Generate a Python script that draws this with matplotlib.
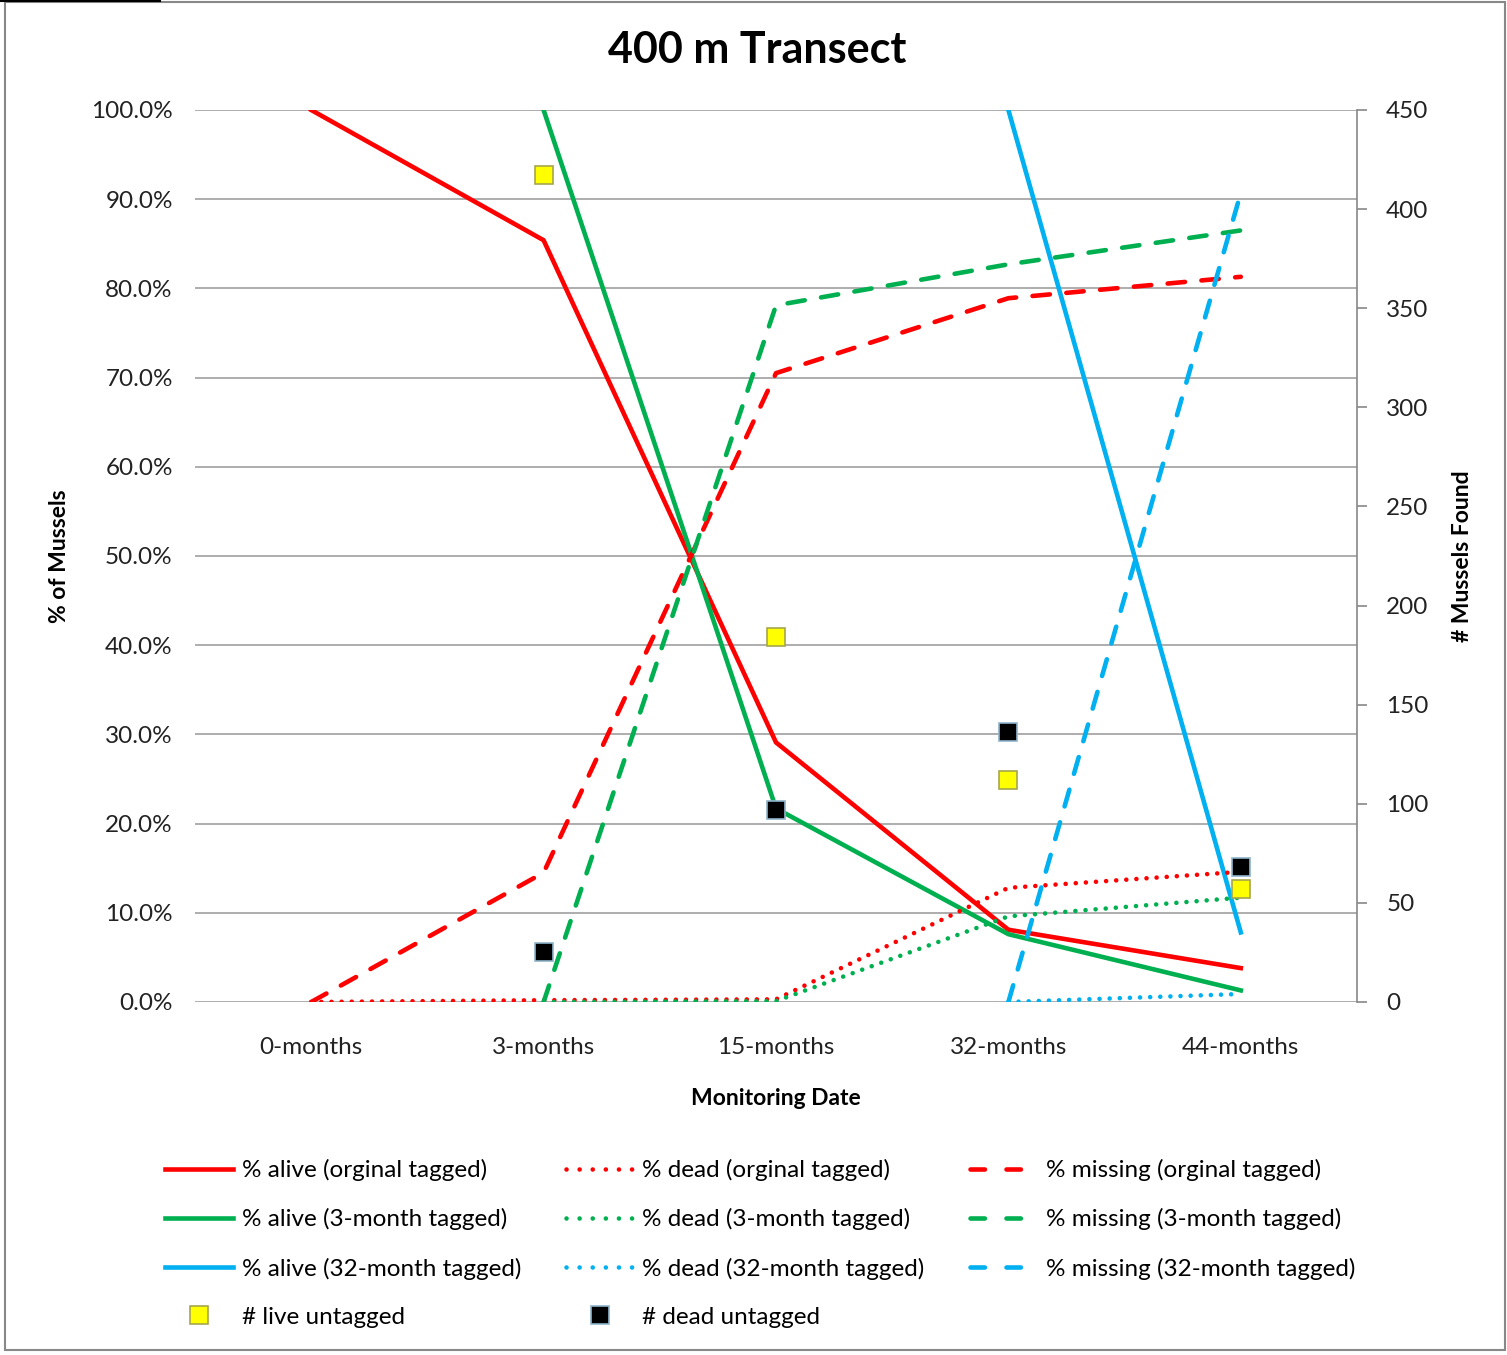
import matplotlib.pyplot as plt
from matplotlib.lines import Line2D
from matplotlib.patches import Rectangle

plt.rcParams['font.family'] = ['Lato', 'DejaVu Sans']

dates = ["0-months", "3-months", "15-months", "32-months", "44-months"]
x = [0, 1, 2, 3, 4]

# % of original tagged mussels
alive_orig = [100.0, 85.4, 29.1, 8.1, 3.8]
dead_orig = [0.0, 0.2, 0.3, 12.8, 14.6]
missing_orig = [0.0, 14.5, 70.5, 78.9, 81.3]

# % of 3-month tagged mussels (start at 3-months)
alive_3m = [100.0, 21.7, 7.6, 1.3]
dead_3m = [0.0, 0.1, 9.6, 11.7]
missing_3m = [0.0, 78.1, 82.7, 86.5]

# % of 32-month tagged mussels (start at 32-months)
alive_32m = [100.0, 7.8]
dead_32m = [0.0, 0.9]
missing_32m = [0.0, 90.7]

# untagged counts (right axis)
live_untagged = [None, 417, 184, 112, 57]
dead_untagged = [None, 25, 97, 136, 68]

RED = "#FF0000"
GREEN = "#00B050"
BLUE = "#00B0F0"

fig = plt.figure(figsize=(15.07, 13.55), dpi=100)
ax = fig.add_axes([195/1507, 1 - 1002/1355, (1357-195)/1507, (1002-110)/1355])
ax2 = ax.twinx()

lw = 3.3
dot = dict(linestyle=(0, (0.01, 2.2)), dash_capstyle='round')
dash = dict(linestyle=(0, (3.8, 3.6)), dash_capstyle='round')

ax.plot(x, alive_orig, color=RED, lw=lw)
ax.plot(x[1:], alive_3m, color=GREEN, lw=lw)
ax.plot(x[3:], alive_32m, color=BLUE, lw=lw)
ax.plot(x, dead_orig, color=RED, lw=lw, **dot)
ax.plot(x[1:], dead_3m, color=GREEN, lw=lw, **dot)
ax.plot(x[3:], dead_32m, color=BLUE, lw=lw, **dot)
ax.plot(x, missing_orig, color=RED, lw=lw, **dash)
ax.plot(x[1:], missing_3m, color=GREEN, lw=lw, **dash)
ax.plot(x[3:], missing_32m, color=BLUE, lw=lw, **dash)

lx = [i for i, v in zip(x, live_untagged) if v is not None]
lv = [v for v in live_untagged if v is not None]
dx = [i for i, v in zip(x, dead_untagged) if v is not None]
dv = [v for v in dead_untagged if v is not None]
live_style = dict(linestyle='none', marker='s', markersize=13.5, markerfacecolor="#FFFF00",
                  markeredgecolor="#A6A64D", markeredgewidth=1.2)
dead_style = dict(linestyle='none', marker='s', markersize=13.5, markerfacecolor="black",
                  markeredgecolor="#8FB4CC", markeredgewidth=1.2)
ax2.plot(lx, lv, **live_style)
ax2.plot(dx, dv, **dead_style)

ax.set_xlim(-0.5, 4.5)
ax.set_ylim(0, 100)
ax2.set_ylim(0, 450)
ax.set_yticks(range(0, 101, 10))
ax.set_yticklabels([f"{v:.1f}%" for v in range(0, 101, 10)])
ax2.set_yticks(range(0, 451, 50))
ax.set_xticks(x)
ax.set_xticklabels(dates)

ax.grid(axis='y', color="#A0A0A0", lw=1.2)
ax.set_axisbelow(True)
for s in ['top', 'left', 'bottom', 'right']:
    ax.spines[s].set_visible(False)
for s in ['top', 'left', 'bottom']:
    ax2.spines[s].set_visible(False)
ax2.spines['right'].set_color("#888888")
ax2.spines['right'].set_linewidth(1.2)

ax.tick_params(axis='both', length=0, labelsize=17.5, colors="#222222")
ax.tick_params(axis='x', pad=25)
ax.tick_params(axis='y', pad=16)
ax2.tick_params(axis='y', length=7, width=1.2, color="#888888", labelsize=17.5,
                labelcolor="#222222", pad=14)

ax.set_xlabel("Monitoring Date", fontsize=16.5, fontweight='bold', labelpad=22)
ax.set_ylabel("% of Mussels", fontsize=16.5, fontweight='bold')
ax.yaxis.set_label_coords((70 - 195) / 1162, 0.5)
ax2.set_ylabel("# Mussels Found", fontsize=16.5, fontweight='bold', rotation=90)
ax2.yaxis.set_label_coords((1452 - 195) / 1162, 0.5)
fig.text(757/1507, 1 - 50/1355, "400 m Transect", fontsize=31, fontweight='bold',
         ha='center', va='center')

# legend proxies (Excel-like dash spacing in the legend), filled column by column
ldot = (0, (0.01, 2.85))
ldash = (0, (3.15, 4.7))
handles = [
    Line2D([], [], color=RED, lw=lw),
    Line2D([], [], color=GREEN, lw=lw),
    Line2D([], [], color=BLUE, lw=lw),
    Line2D([], [], **live_style),
    Line2D([], [], color=RED, lw=lw, linestyle=ldot, dash_capstyle='round'),
    Line2D([], [], color=GREEN, lw=lw, linestyle=ldot, dash_capstyle='round'),
    Line2D([], [], color=BLUE, lw=lw, linestyle=ldot, dash_capstyle='round'),
    Line2D([], [], **dead_style),
    Line2D([], [], color=RED, lw=lw, linestyle=ldash, dash_capstyle='round'),
    Line2D([], [], color=GREEN, lw=lw, linestyle=ldash, dash_capstyle='round'),
    Line2D([], [], color=BLUE, lw=lw, linestyle=ldash, dash_capstyle='round'),
]
labels = ["% alive (orginal tagged)", "% alive (3-month tagged)", "% alive (32-month tagged)",
          "# live untagged",
          "% dead (orginal tagged)", "% dead (3-month tagged)", "% dead (32-month tagged)",
          "# dead untagged",
          "% missing (orginal tagged)", "% missing (3-month tagged)", "% missing (32-month tagged)"]
fig.legend(handles, labels, ncol=3, frameon=False, fontsize=17.5,
           loc='upper left', bbox_to_anchor=(165/1507, 1 - 1159/1355),
           handlelength=2.8, handletextpad=0.35, columnspacing=1.85, labelspacing=1.12,
           borderaxespad=0, borderpad=0)

# outer frame
fig.add_artist(Rectangle((5/1507, 5/1355), 1500/1507, 1348/1355, transform=fig.transFigure,
                         fill=False, edgecolor="#888888", lw=1.5))
fig.add_artist(Line2D([0, 160/1507], [1 - 1/1355, 1 - 1/1355], transform=fig.transFigure,
                      color="black", lw=1.5))

fig.savefig("out.png", dpi=100)
